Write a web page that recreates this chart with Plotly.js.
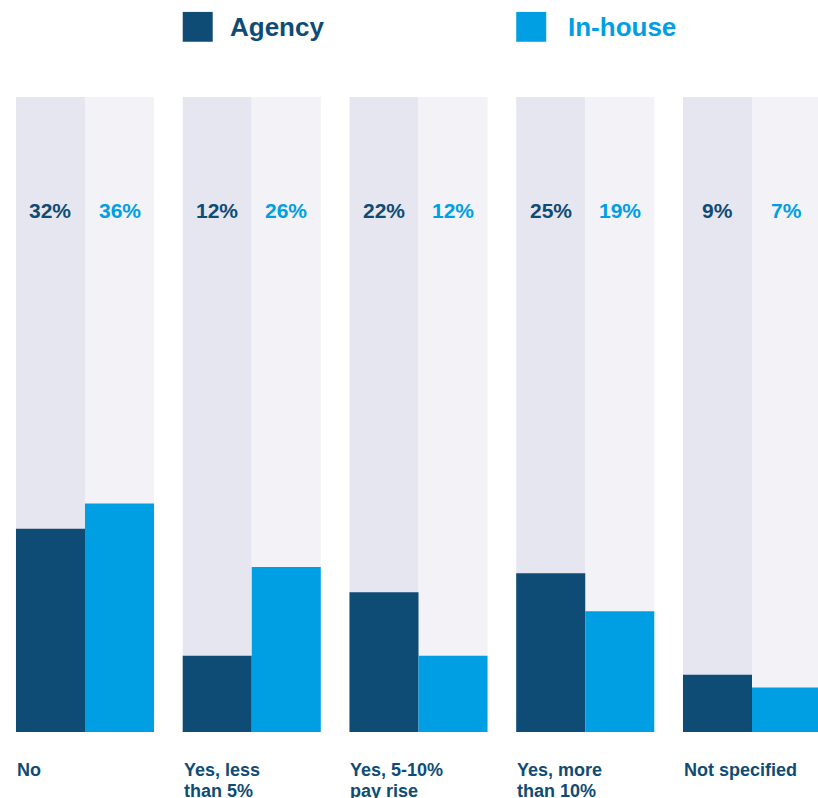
<!DOCTYPE html>
<html>
<head>
<meta charset="utf-8">
<script src="https://cdn.plot.ly/plotly-3.0.1.min.js"></script>
<style>html,body{margin:0;padding:0;background:#fff;}#chart{width:818px;height:798px;}</style>
</head>
<body>
<div id="chart"></div>
<script>
const categories = ["No", "Yes, less<br>than 5%", "Yes, 5-10%<br>pay rise", "Yes, more<br>than 10%", "Not specified"];
const agency = [32, 12, 22, 25, 9];
const inhouse = [36, 26, 12, 19, 7];
const fullScale = [100, 100, 100, 100, 100];
const seriesNames = ["Agency", "In-house"];

const C_AG = "#0f4c75", C_IN = "#009fe3", BG_AG = "#e6e6f0", BG_IN = "#f2f2f7";
const W = 0.414;
const xs = categories.map((_, i) => i);

const traces = [
  {type: "bar", x: xs, y: fullScale, width: W, offset: -W, marker: {color: BG_AG}, hoverinfo: "skip"},
  {type: "bar", x: xs, y: fullScale, width: W, offset: 0, marker: {color: BG_IN}, hoverinfo: "skip"},
  {type: "bar", x: xs, y: agency, width: W, offset: -W, marker: {color: C_AG}, name: seriesNames[0]},
  {type: "bar", x: xs, y: inhouse, width: W, offset: 0, marker: {color: C_IN}, name: seriesNames[1]}
];

const annotations = [];
const FONT = "Liberation Sans, Arial, sans-serif";
xs.forEach(i => {
  annotations.push({x: i - W / 2, y: 82.2, xref: "x", yref: "y", text: "<b>" + agency[i] + "%</b>",
    showarrow: false, font: {family: FONT, size: 21, color: C_AG}, xanchor: "center", yanchor: "middle"});
  annotations.push({x: i + W / 2, y: 82.2, xref: "x", yref: "y", text: "<b>" + inhouse[i] + "%</b>",
    showarrow: false, font: {family: FONT, size: 21, color: C_IN}, xanchor: "center", yanchor: "middle"});
  categories[i].split("<br>").forEach((line, k) => {
    annotations.push({x: i - W, y: -0.06 - k * 0.033, xref: "x", yref: "paper", text: "<b>" + line + "</b>",
      showarrow: false, font: {family: FONT, size: 18, color: C_AG}, xanchor: "left", yanchor: "middle", xshift: -1});
  });
});

// custom legend
const legendPos = [1, 3];
const shapes = [];
seriesNames.forEach((nm, j) => {
  const cx = legendPos[j] - W;
  const col = j === 0 ? C_AG : C_IN;
  shapes.push({type: "rect", xref: "x", yref: "paper", x0: cx, x1: cx + 30 / 166.75, y0: 1.087, y1: 1.134,
    fillcolor: col, line: {width: 0}});
  annotations.push({x: cx, y: 1.111, xref: "x", yref: "paper", text: "<b>" + nm + "</b>", showarrow: false,
    font: {family: FONT, size: 26, color: col}, xanchor: "left", yanchor: "middle", xshift: j === 0 ? 45 : 50});
});

const layout = {
  width: 818, height: 798,
  margin: {l: 0, r: 0, t: 97, b: 66, pad: 0},
  paper_bgcolor: "#ffffff", plot_bgcolor: "#ffffff",
  barmode: "overlay",
  showlegend: false,
  xaxis: {range: [-85 / 166.75, -85 / 166.75 + 818 / 166.75], showticklabels: false, showgrid: false,
    zeroline: false, showline: false, ticks: "", fixedrange: true},
  yaxis: {range: [0, 100], showticklabels: false, showgrid: false, zeroline: false, showline: false, fixedrange: true},
  annotations: annotations,
  shapes: shapes
};

Plotly.newPlot("chart", traces, layout, {displayModeBar: false, staticPlot: true});
</script>
</body>
</html>
